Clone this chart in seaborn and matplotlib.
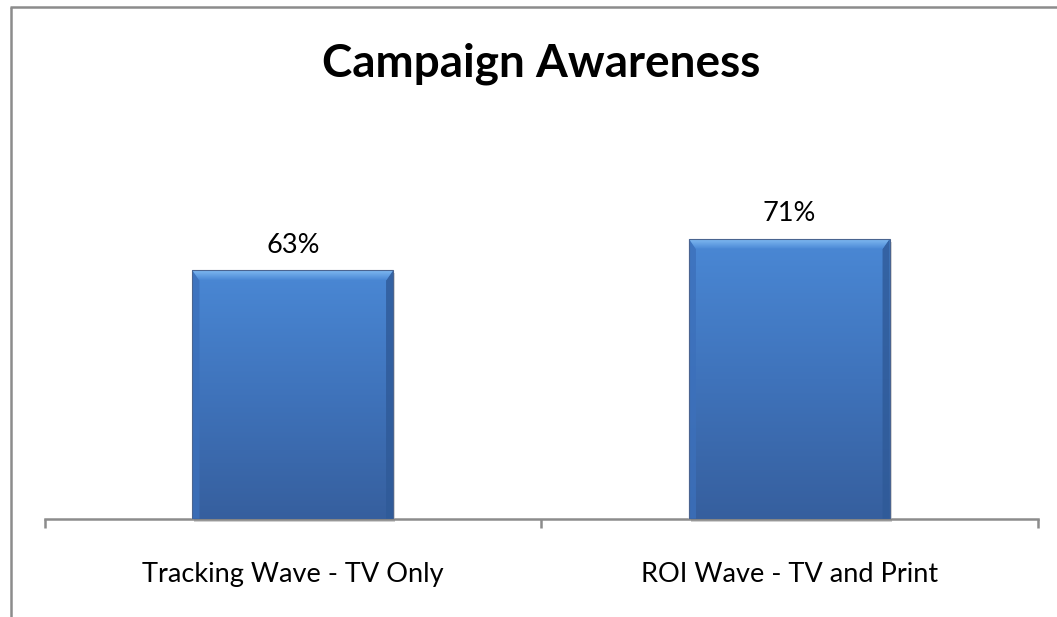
import numpy as np
import pandas as pd
import matplotlib
matplotlib.use("Agg")
import matplotlib.pyplot as plt
import seaborn as sns
from matplotlib.patches import Polygon, Rectangle
from matplotlib.lines import Line2D
from matplotlib.colors import LinearSegmentedColormap

# Chart data
categories = ["Tracking Wave - TV Only", "ROI Wave - TV and Print"]
awareness = [63, 71]
title = "Campaign Awareness"

sns.set_theme(style="white")
plt.rcParams["font.family"] = ["Lato", "DejaVu Sans"]

W, H = 1057, 617
fig = plt.figure(figsize=(W / 100, H / 100), dpi=100)
fig.patch.set_facecolor("white")

ax = fig.add_axes([44.5 / W, 1 - 518.7 / H, (1037.5 - 44.5) / W, (518.7 - 124.7) / H])
df = pd.DataFrame({"wave": categories, "awareness": awareness})
sns.barplot(data=df, x="wave", y="awareness", color="#4279c4", width=0.404,
            saturation=1, ax=ax, zorder=2)
ax.set_xlim(-0.5, 1.5)
ax.set_ylim(0, 100)
ax.set_xlabel("")
ax.set_ylabel("")
ax.set_yticks([])
for s in ("left", "right", "top"):
    ax.spines[s].set_visible(False)
ax.spines["bottom"].set_color("#8c8c8c")
ax.spines["bottom"].set_linewidth(1.8)
ax.spines["bottom"].set_zorder(1)

# Category boundaries carry the tick marks, labels sit under each bar
ax.set_xticks([-0.5, 0.5, 1.5])
ax.set_xticklabels(["", "", ""])
ax.tick_params(axis="x", which="major", direction="out", length=6.5, width=1.8,
               color="#8c8c8c", bottom=True)
ax.set_xticks([0, 1], minor=True)
ax.set_xticklabels(categories, minor=True, fontsize=19.5, color="black")
ax.tick_params(axis="x", which="minor", length=0, pad=31)

# pixel size in data units
fig.canvas.draw()
bbox = ax.get_window_extent()
px_x = 2.0 / bbox.width
px_y = 100.0 / bbox.height

cmap = LinearSegmentedColormap.from_list("body", ["#365f9e", "#3f73bb", "#4a88d5"])
bevel_cmap = LinearSegmentedColormap.from_list("bevel", ["#4a88d5", "#80baf2"])
grad = np.linspace(0, 1, 256).reshape(-1, 1)

for bar in ax.patches:
    x0, w, h = bar.get_x(), bar.get_width(), bar.get_height()
    x1 = x0 + w
    # soft shadow
    ax.add_patch(Rectangle((x0 + 2 * px_x, -3 * px_y), w, h, color="#7a7a7a",
                           alpha=0.35, lw=0, zorder=1.5, clip_on=False))
    im = ax.imshow(grad, extent=[x0, x1, 0, h], aspect="auto", cmap=cmap,
                   origin="lower", zorder=2.1)
    im.set_clip_path(bar)
    dx, dy = 7 * px_x, 10 * px_y
    top = Polygon([(x0, h), (x1, h), (x1 - dx, h - dy), (x0 + dx, h - dy)],
                  closed=True, fc="none", lw=0, zorder=2.3)
    ax.add_patch(top)
    tim = ax.imshow(grad, extent=[x0, x1, h - dy, h], aspect="auto", cmap=bevel_cmap,
                    origin="lower", zorder=2.3)
    tim.set_clip_path(top)
    ax.add_patch(Polygon([(x0, 0), (x0, h), (x0 + dx, h - dy), (x0 + dx, 0)],
                         closed=True, color="#3c70bb", alpha=0.8, lw=0, zorder=2.2))
    ax.add_patch(Polygon([(x1, 0), (x1, h), (x1 - dx, h - dy), (x1 - dx, 0)],
                         closed=True, color="#2f5a98", alpha=0.8, lw=0, zorder=2.2))
    ax.add_patch(Rectangle((x0, 0), w, h, fill=False, ec="#4a6490", lw=0.8, zorder=2.4))

ax.bar_label(ax.containers[0], labels=[f"{v}%" for v in awareness], padding=9,
             fontsize=19.5, color="black")

fig.text(541 / W, 1 - 76.7 / H, title, ha="center", va="baseline",
         fontsize=33, fontweight="bold", color="black")

# outer chart frame
fig.add_artist(Line2D([11 / W, 11 / W], [0, 1 - 7 / H], transform=fig.transFigure,
                      color="#8c8c8c", lw=1.8, solid_capstyle="butt"))
fig.add_artist(Line2D([10 / W, 1], [1 - 7 / H, 1 - 7 / H], transform=fig.transFigure,
                      color="#8c8c8c", lw=1.8, solid_capstyle="butt"))

fig.savefig("out.png", dpi=100, facecolor="white")
